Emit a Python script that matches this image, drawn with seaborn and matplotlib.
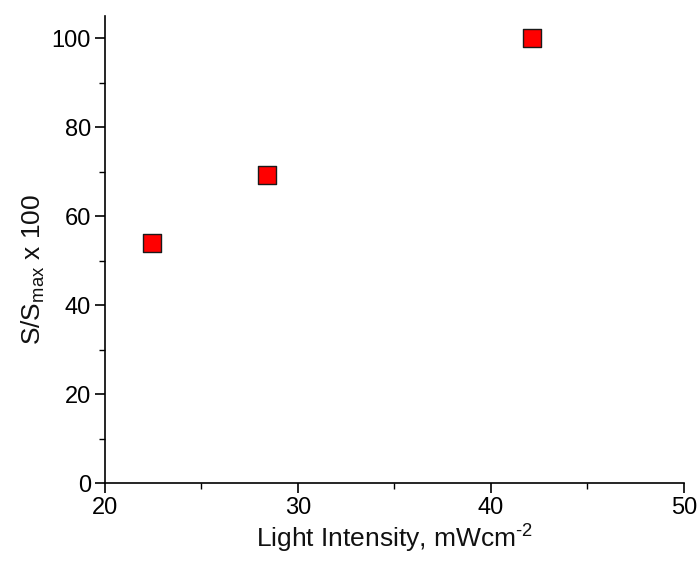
import matplotlib
matplotlib.use("Agg")
import matplotlib.pyplot as plt
import seaborn as sns
import pandas as pd
from matplotlib.ticker import MultipleLocator

# Measured response versus illumination intensity
light_intensity = [22.45, 28.4, 42.15]
relative_signal = [53.9, 69.4, 100.0]

df = pd.DataFrame({"intensity": light_intensity, "signal": relative_signal})

sns.set_style("ticks")
plt.rcParams["font.family"] = ["Liberation Sans", "DejaVu Sans"]
plt.rcParams["mathtext.fontset"] = "custom"
plt.rcParams["mathtext.rm"] = "Liberation Sans"
plt.rcParams["mathtext.it"] = "Liberation Sans"
plt.rcParams["text.color"] = "black"
plt.rcParams["axes.labelcolor"] = "black"

fig = plt.figure(figsize=(6.98, 5.61), dpi=100)
ax = fig.add_axes([0.150, 0.139, 0.830, 0.832])

sns.scatterplot(data=df, x="intensity", y="signal", ax=ax, marker="s",
                s=185, color="#ff0000", edgecolor="#1a1a1a", linewidth=1.0,
                zorder=3, legend=False)

ax.set_xlim(20, 50)
ax.set_ylim(0, 105)
ax.xaxis.set_major_locator(MultipleLocator(10))
ax.xaxis.set_minor_locator(MultipleLocator(5))
ax.yaxis.set_major_locator(MultipleLocator(20))
ax.yaxis.set_minor_locator(MultipleLocator(10))

for side in ("top", "right"):
    ax.spines[side].set_visible(False)
for side in ("left", "bottom"):
    ax.spines[side].set_linewidth(1.2)
    ax.spines[side].set_color("black")

ax.tick_params(which="major", direction="out", length=7, width=1.2,
               labelsize=17, colors="black", pad=3)
ax.tick_params(which="minor", direction="out", length=4, width=1.0,
               colors="black")

ax.set_xlabel("Light Intensity, mWcm$^{\\mathregular{\u2010 2}}$", fontsize=19,
              labelpad=3, color="#111111")
ax.set_ylabel(r"S/S$_{\mathregular{max}}$ x 100", fontsize=19, labelpad=3,
              y=0.458, color="#111111")

fig.savefig("out.png", dpi=100, facecolor="white")
